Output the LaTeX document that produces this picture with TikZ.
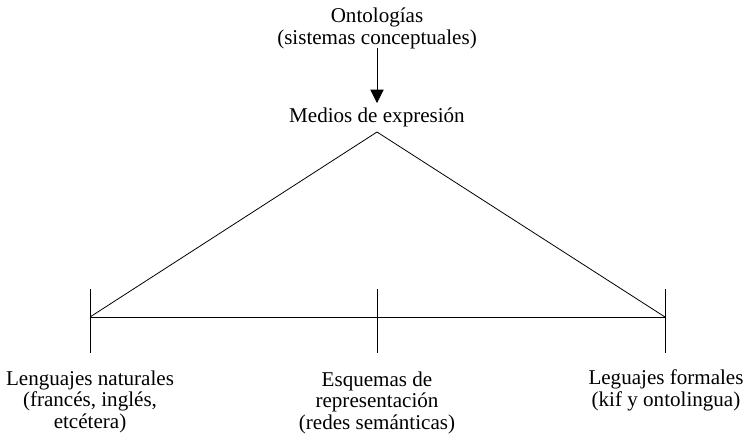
\documentclass[tikz,border=0pt]{standalone}
\usepackage{fontspec}
\setmainfont{Liberation Serif}
\usetikzlibrary{arrows.meta}

\tikzset{
  lbl/.style={align=center, inner sep=0pt, font=\fontsize{15.8}{16.1}\selectfont},
  fino/.style={line width=0.6pt}
}

\begin{document}
\begin{tikzpicture}[x=0.75pt,y=0.75pt,yscale=-1,xscale=1]
  \useasboundingbox (0,0) rectangle (750,433);

  % Text Node (base = last line)
  \node[lbl, anchor=base] (ont) at (377,44) {Ontologías\\(sistemas conceptuales)};
  % Text Node
  \node[lbl, anchor=base] (medios) at (377,122) {Medios de expresión};

  % puntos de la figura
  \coordinate (apex) at (377,132);
  \coordinate (izq) at (90,317);
  \coordinate (cen) at (377,317);
  \coordinate (der) at (665,317);
  \coordinate (izqA) at (90,289);
  \coordinate (izqB) at (90,353);
  \coordinate (cenA) at (377,289);
  \coordinate (cenB) at (377,353);
  \coordinate (derA) at (665,289);
  \coordinate (derB) at (665,353);
  \coordinate (flechaA) at (377,48);
  \coordinate (flechaB) at (377,103);

  % Arrow
  \draw[fino, -{Triangle[length=10pt,width=10pt]}] (flechaA) -- (flechaB);

  % Triangle and base
  \draw[fino] (izq) -- (apex) -- (der);
  \draw[fino] (izq) -- (der);
  \draw[fino] (izqA) -- (izqB);
  \draw[fino] (cenA) -- (cenB);
  \draw[fino] (derA) -- (derB);

  % Text Node
  \node[lbl, anchor=base] (nat) at (90,428) {Lenguajes naturales\\(francés, inglés,\\etcétera)};
  % Text Node
  \node[lbl, anchor=base] (esq) at (377,429) {Esquemas de\\representación\\(redes semánticas)};
  % Text Node
  \node[lbl, anchor=base] (form) at (666,406) {Leguajes formales\\(kif y ontolingua)};
\end{tikzpicture}
\end{document}
